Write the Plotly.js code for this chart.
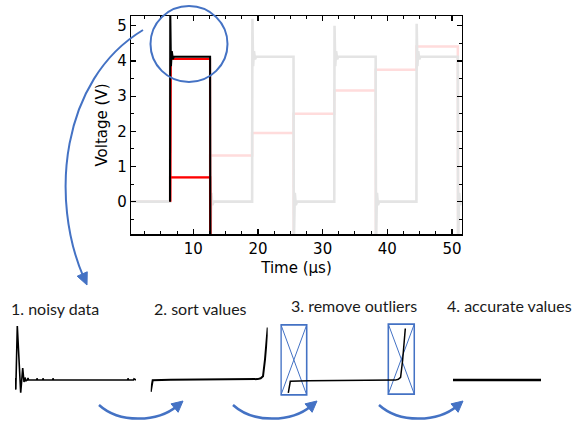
<!DOCTYPE html>
<html>
<head>
<meta charset="utf-8">
<script src="https://cdn.plot.ly/plotly-3.0.1.min.js"></script>
<style>
  html, body { margin: 0; padding: 0; background: #fff; }
  #chart { width: 580px; height: 425px; }
</style>
</head>
<body>
<div id="chart"></div>
<script>
// ---- page geometry helpers (pixel -> paper fraction) ----
const W = 580, H = 425;
const fx = x => x / W;
const fy = y => 1 - y / H;

// ---- oscilloscope trace data (time in µs, voltage in V) ----
const tStart = 0.42, tEnd = 51.5;
const edgeTimes = [6.4, 12.6, 19.1, 25.5, 31.8, 38.2, 44.5, 50.9];
const stepLevels = [0, 0.69, 1.31, 1.95, 2.50, 3.16, 3.75, 4.41];
const pulseLow = 0, pulseHigh = 4.12, followHigh = 4.06;
const risePeaks = [5.4, 5.2, 5.0, 5.06];
const fallTrough = -1.3;
const riseRingDt = [0.15, 0.28, 0.45, 0.6];
const riseRingV  = [3.85, 4.28, 4.05, 4.12];
const fallRingDt = [0.2, 0.35, 0.55];
const fallRingV  = [0.25, -0.1, 0];

// ---- processing-step panels ----
const noisyIdx = [0.3, 0.8, 2.3, 5.7, 7.7, 9, 10, 11, 12.5, 13, 13.6, 21.5, 22, 22.6, 27.5, 28, 28.6,
                  37.5, 38, 38.6, 112.5, 113, 113.6, 118.5, 119, 121];
const noisyV   = [4.15, 3.86, 5.45, 3.78, 4.4, 4.05, 4.16, 4.08, 4.1, 4.15, 4.1, 4.1, 4.14, 4.1, 4.1, 4.14, 4.1,
                  4.1, 4.14, 4.1, 4.1, 4.14, 4.1, 4.1, 4.13, 4.1];
const sortedIdx = [0, 2, 20, 60, 100, 107, 110, 112.3, 114.3, 117];
const sortedV   = [3.79, 4.08, 4.095, 4.1, 4.102, 4.11, 4.13, 4.18, 4.6, 5.4];
const accurateIdx = [0, 1];
const accurateV   = [4.1, 4.1];
const stepLabels = ['1. noisy data', '2. sort values', '3. remove outliers', '4. accurate values'];

// ---- build the input square wave ----
const inX = [tStart], inY = [pulseLow];
edgeTimes.forEach((t, k) => {
  if (k % 2 === 0) {
    inX.push(t, t + 0.04); inY.push(pulseLow, risePeaks[k / 2]);
    riseRingDt.forEach((d, j) => { inX.push(t + d); inY.push(riseRingV[j]); });
  } else {
    inX.push(t, t + 0.04); inY.push(pulseHigh, fallTrough);
    fallRingDt.forEach((d, j) => { inX.push(t + d); inY.push(fallRingV[j]); });
  }
});
inX.push(tEnd); inY.push(pulseLow);

// ---- build the stepped output ----
const outX = [], outY = [];
stepLevels.forEach((lvl, i) => {
  const s = i === 0 ? tStart : edgeTimes[i - 1];
  const e = edgeTimes[i];
  outX.push(s, e); outY.push(lvl, lvl);
  if (i % 2 === 1) { outX.push(e + 0.04); outY.push(fallTrough); }
});

// highlighted cycle
const hs = edgeTimes[0], he = edgeTimes[1];
const blkX = [], blkY = [];
inX.forEach((t, i) => { if (t >= hs && t <= he + 0.04) { blkX.push(t); blkY.push(inY[i]); } });
const redFollowX = [hs + 0.08, hs + 0.14, he, he + 0.04];
const redFollowY = [pulseLow, followHigh, followHigh, fallTrough];
const redStepX = [hs + 0.08, he, he + 0.04];
const redStepY = [stepLevels[1], stepLevels[1], fallTrough];

const traces = [
  { x: outX, y: outY, mode: 'lines', line: { color: '#ffdcdc', width: 2.5 }, xaxis: 'x', yaxis: 'y' },
  { x: inX, y: inY, mode: 'lines', line: { color: '#e4e4e4', width: 2.6 }, xaxis: 'x', yaxis: 'y' },
  { x: redFollowX, y: redFollowY, mode: 'lines', line: { color: '#ff0000', width: 2 }, xaxis: 'x', yaxis: 'y' },
  { x: redStepX, y: redStepY, mode: 'lines', line: { color: '#ff0000', width: 2.2 }, xaxis: 'x', yaxis: 'y' },
  { x: blkX, y: blkY, mode: 'lines', line: { color: '#000000', width: 2 }, xaxis: 'x', yaxis: 'y' },
  { x: noisyIdx, y: noisyV, mode: 'lines', line: { color: '#000', width: 1.6 }, xaxis: 'x2', yaxis: 'y2' },
  { x: sortedIdx, y: sortedV, mode: 'lines', line: { color: '#000', width: 2 }, xaxis: 'x3', yaxis: 'y3' },
  { x: sortedIdx, y: sortedV, mode: 'lines', line: { color: '#000', width: 1.5 }, xaxis: 'x4', yaxis: 'y4' },
  { x: accurateIdx, y: accurateV, mode: 'lines', line: { color: '#000', width: 2.5 }, xaxis: 'x5', yaxis: 'y5' }
];

// ---- decorations ----
const blue = '#4472C4';
function P(x, y) { return fx(x).toFixed(5) + ',' + fy(y).toFixed(5); }
function curvedArrow(p0, c1, c2, tip, headLen, headHalf, width) {
  let dx = tip[0] - c2[0], dy = tip[1] - c2[1];
  const n = Math.hypot(dx, dy); dx /= n; dy /= n;
  const end = [tip[0] - dx * headLen * 0.7, tip[1] - dy * headLen * 0.7];
  const base = [tip[0] - dx * headLen, tip[1] - dy * headLen];
  const nx = -dy, ny = dx;
  return [
    { type: 'path', xref: 'paper', yref: 'paper',
      path: 'M' + P(p0[0], p0[1]) + ' C' + P(c1[0], c1[1]) + ' ' + P(c2[0], c2[1]) + ' ' + P(end[0], end[1]),
      line: { color: blue, width: width } },
    { type: 'path', xref: 'paper', yref: 'paper',
      path: 'M' + P(tip[0], tip[1]) + ' L' + P(base[0] + nx * headHalf, base[1] + ny * headHalf) +
            ' L' + P(base[0] - nx * headHalf, base[1] - ny * headHalf) + ' Z',
      fillcolor: blue, line: { color: blue, width: 1 } }
  ];
}
function crossedBox(xr, x0, x1, y0, y1) {
  const common = { xref: xr, yref: 'y4', layer: 'below' };
  return [
    Object.assign({ type: 'rect', x0, x1, y0, y1, line: { color: blue, width: 1.6 } }, common),
    Object.assign({ type: 'line', x0, x1, y0, y1, line: { color: blue, width: 1 } }, common),
    Object.assign({ type: 'line', x0, x1, y0: y1, y1: y0, line: { color: blue, width: 1 } }, common)
  ];
}

const shapes = [
  { type: 'circle', xref: 'paper', yref: 'paper', x0: fx(150.5), x1: fx(227.5), y0: fy(82), y1: fy(6),
    line: { color: blue, width: 2 } },
  ...curvedArrow([143, 30], [60, 80], [50, 200], [87, 285], 12, 5.5, 2),
  ...curvedArrow([99, 405], [120, 424], [158, 422], [183, 401], 11, 5.5, 2.5),
  ...curvedArrow([233, 405], [254, 424], [292, 422], [317, 401], 11, 5.5, 2.5),
  ...curvedArrow([379, 405], [400, 424], [438, 422], [463, 401], 11, 5.5, 2.5),
  ...crossedBox('x4', -7.3, 18.4, 3.74, 5.49),
  ...crossedBox('x4', 100, 126, 3.76, 5.51)
];

const labelPos = [[55, 308], [200.5, 308], [353.5, 305], [509.5, 305]];
const annotations = stepLabels.map((s, i) => ({
  text: s, xref: 'paper', yref: 'paper', x: fx(labelPos[i][0]), y: fy(labelPos[i][1]),
  xanchor: 'center', yanchor: 'middle', showarrow: false,
  font: { family: 'Lato, sans-serif', size: 16, color: '#1a1a1a' }
}));

const tickFont = { family: 'DejaVu Sans, Verdana, sans-serif', size: 15, color: '#000' };
const axisCommon = {
  showline: true, linecolor: '#000', linewidth: 1.5, mirror: 'allticks',
  ticks: 'inside', ticklen: 5, tickwidth: 1.2, tickcolor: '#000',
  showgrid: false, zeroline: false, tickfont: tickFont
};
const hidden = { visible: false, fixedrange: true };

const layout = {
  width: W, height: H,
  margin: { l: 0, r: 0, t: 0, b: 0 },
  paper_bgcolor: '#fff', plot_bgcolor: 'rgba(0,0,0,0)',
  showlegend: false,
  xaxis: Object.assign({}, axisCommon, {
    domain: [fx(131.3), fx(461.7)], range: [tStart, tEnd], tick0: 0, dtick: 10,
    minor: { dtick: 2.5, tick0: 0, ticks: 'inside', ticklen: 3, tickwidth: 1, tickcolor: '#000' },
    title: { text: 'Time (µs)', font: tickFont, standoff: 6 }, anchor: 'y'
  }),
  yaxis: Object.assign({}, axisCommon, {
    domain: [fy(234), fy(16)], range: [-0.92, 5.28], tick0: 0, dtick: 1,
    minor: { dtick: 0.5, tick0: 0, ticks: 'inside', ticklen: 3, tickwidth: 1, tickcolor: '#000' },
    title: { text: 'Voltage (V)', font: tickFont, standoff: 6 }, anchor: 'x'
  }),
  xaxis2: Object.assign({}, hidden, { domain: [fx(15), fx(136)], range: [0, 121], anchor: 'y2' }),
  yaxis2: Object.assign({}, hidden, { domain: [fy(400), fy(320)], range: [3.6, 5.6], anchor: 'x2' }),
  xaxis3: Object.assign({}, hidden, { domain: [fx(150.7), fx(267.7)], range: [0, 117], anchor: 'y3' }),
  yaxis3: Object.assign({}, hidden, { domain: [fy(399.5), fy(319.5)], range: [3.6, 5.6], anchor: 'x3' }),
  xaxis4: Object.assign({}, hidden, { domain: [fx(280.3), fx(415.3)], range: [-8, 127], anchor: 'y4' }),
  yaxis4: Object.assign({}, hidden, { domain: [fy(400.5), fy(317.5)], range: [3.6, 5.675], anchor: 'x4' }),
  xaxis5: Object.assign({}, hidden, { domain: [fx(453), fx(541)], range: [0, 1], anchor: 'y5' }),
  yaxis5: Object.assign({}, hidden, { domain: [fy(400), fy(320)], range: [3.6, 5.6], anchor: 'x5' }),
  shapes: shapes,
  annotations: annotations,
  hovermode: false
};

Plotly.newPlot('chart', traces, layout, { staticPlot: true, displayModeBar: false });
</script>
</body>
</html>
